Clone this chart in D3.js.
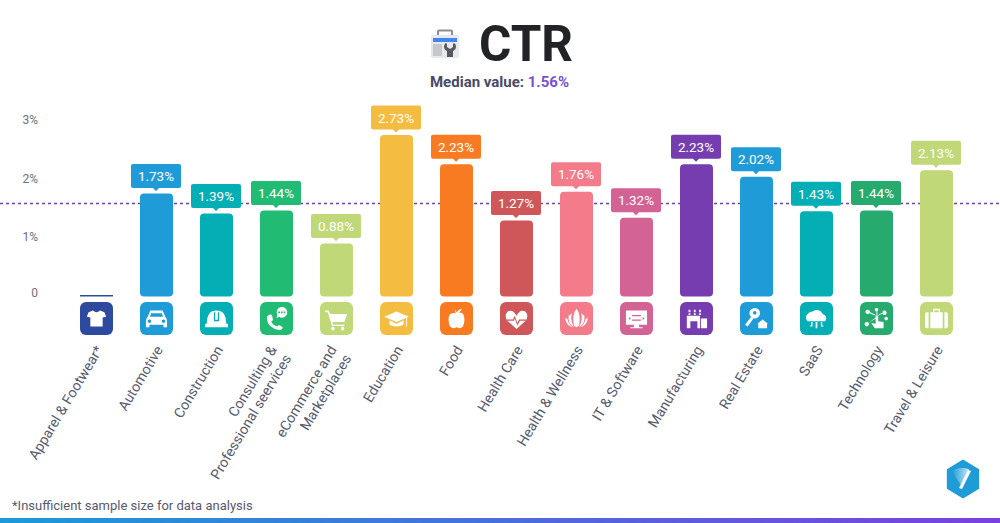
<!DOCTYPE html>
<html><head><meta charset="utf-8">
<script src="https://cdnjs.cloudflare.com/ajax/libs/d3/7.8.5/d3.min.js"></script>
<style>html,body{margin:0;padding:0;background:#fff}svg{display:block}text{font-family:Roboto,sans-serif}</style>
</head><body><svg id="c" width="1000" height="523"></svg>
<script>
const categories=["Apparel & Footwear*","Automotive","Construction","Consulting &|Professional seervices","eCommerce and|Marketplaces","Education","Food","Health Care","Health & Wellness","IT & Software","Manufacturing","Real Estate","SaaS","Technology","Travel & Leisure"];
const values=[null,1.73,1.39,1.44,0.88,2.73,2.23,1.27,1.76,1.32,2.23,2.02,1.43,1.44,2.13];
const colors=["#2e4a9e","#1f9cd8","#03aeb4","#22bb73","#c0d877","#f5bc42","#f87b22","#cf5759","#f37b8a","#d36295","#753db0","#1f9cd8","#03aeb4","#27aa6d","#c0d877"];
const yTicks=[0,1,2,3];
const median=1.56;
const iconPaths=[
"M-4-9 L-9-7 L-11-2 L-7-1 L-7 9 L7 9 L7-1 L11-2 L9-7 L4-9 Q0-5-4-9Z",
"M-7-9 L7-9 L10-2 Q12 0 12 3 L12 10 L8 10 L8 7 L-8 7 L-8 10 L-12 10 L-12 3 Q-12 0-10-2Z M-6-6 L-7.5-2 L7.5-2 L6-6Z M-8 1 a2 2 0 1 0 .01 0Z M8 1 a2 2 0 1 0 .01 0Z",
"M-11 6 Q-11-9 0-9 Q11-9 11 6 L13 6 L13 10 L-13 10 L-13 6Z M-3-7 L-3 3 L3 3 L3-7 L1.5-7 L1.5 1.5 L-1.5 1.5 L-1.5-7Z",
"M-10-3 Q-6-6-5-3 L-4 1 Q-4 3-6 3 Q-4 8 1 9 Q2 7 4 8 L7 10 Q7 13 3 13 Q-10 11-11 0 Q-11-2-10-3Z M6-13 a6 6 0 1 1-3 11 l-3 1.5 l1-3.5 A6 6 0 0 1 6-13Z M2-8 h2 v2 h-2Z M5-8 h2 v2 h-2Z M8-8 h2 v2 h-2Z",
"M-13-9 L-9-9 L-7-5 L12-5 L9 4 L-5 4 L-3.500 7 L9 7 L9 8.500 L-5 8.500 L-10-7 L-13-7Z M-4 9.500 a2 2 0 1 0 .01 0Z M7 9.500 a2 2 0 1 0 .01 0Z",
"M0-8 L14-2 L0 4 L-14-2Z M-8 2 L0 6 L8 2 L8 7 Q0 11-8 7Z M11-1 L12-1 L12 9 L11 9Z",
"M-2-11 L0-7 Q3-11 6-11 Q5-7 0-6 Q9-9 9 1 Q9 11 3 11 L0 10 L-3 11 Q-9 11-9 1 Q-9-8-1-6Z",
"M0-3 Q-4-11-10-8 Q-14-4-11 2 L0 12 L11 2 Q14-4 10-8 Q4-11 0-3Z M-11 1 L-4 1 L-2-3 L1 5 L3 1 L11 1 L11 2.500 L4 2.500 L1 8 L-2 0 L-3 2.500 L-11 2.500Z",
"M0-11 Q5-5 3 8 L0 10 L-3 8 Q-5-5 0-11Z M-5-6 Q-8 0-3 10 Q-10 6-9-3Z M5-6 Q8 0 3 10 Q10 6 9-3Z M-10 1 Q-9 7-4 10 Q-12 9-13-1Z M10 1 Q9 7 4 10 Q12 9 13-1Z",
"M-12-9 L12-9 L12 7 L3 7 L3 10 L7 10 L7 11 L-7 11 L-7 10 L-3 10 L-3 7 L-12 7Z M-5-4 h10 v1.500 h-10Z M-5 1 h10 v1.500 h-10Z M-7-2 l-2 2 l2 2Z M7-2 l2 2 l-2 2Z",
"M-11 11 L-11-3 L4-3 L4 11 L1 11 L1 3 L-7 3 L-7 11Z M5 0 L12 0 L12 11 L5 11Z M-9-6 h2 v2 h-2Z M-3-6 h2 v2 h-2Z M3-6 h2 v2 h-2Z M-9-10 h2 v3 h-2Z M-3-10 h2 v3 h-2Z M3-10 h2 v3 h-2Z",
"M-2-12 a6 6 0 1 0 .01 0Z M-2-8.500 a2 2 0 1 1-.01 0Z M-6-2 L-3.500 0 L-10 9 L-13 7Z M7 1 L13 6 L12 6 L12 11 L2 11 L2 6 L1 6Z",
"M-10 3 a5 5 0 0 1 0-8 a6 6 0 0 1 6-3 a7 7 0 0 1 11 3 a5 5 0 0 1 3 8Z M-1 4 h2 v7 h-2Z M-6 4 h1.500 v5 h-3 v-1 h1.500Z M5 4 h1.500 v4 h1.500 v1 h-3Z",
"M-1-2 a1.500 1.500 0 0 1 3 0 L2 3 L8 4 L8 11 L-2 11 L-6 5 L-1 6Z M-10-10 a2.500 2.500 0 1 0 .01 0Z M9-9 a2.500 2.500 0 1 0 .01 0Z M-11 4 a2.500 2.500 0 1 0 .01 0Z M0-12 a2 2 0 1 0 .01 0Z M11-2 a2 2 0 1 0 .01 0Z M-8-6 L-1-3 L-1-4 L-7-7Z M7-6 L2-3 L2-4 L7-7Z M-9 5 L-1-1 L-1 0Z M0-8 h1 v5 h-1Z",
"M-4-7 L-4-11 L4-11 L4-7 L11-7 Q13-7 13-5 L13 9 Q13 11 11 11 L-11 11 Q-13 11-13 9 L-13-5 Q-13-7-11-7Z M-2.500-7 L2.500-7 L2.500-9.500 L-2.500-9.500Z M-9-7 L-9 11 L-7 11 L-7-7Z M7-7 L7 11 L9 11 L9-7Z"
];
const svg=d3.select("#c");
const defs=svg.append("defs");
const grad=defs.append("linearGradient").attr("id","bottom");
grad.append("stop").attr("offset","0").attr("stop-color","#1a9bd7");
grad.append("stop").attr("offset","1").attr("stop-color","#7c3fe0");
const hex=defs.append("linearGradient").attr("id","hexg").attr("x1",1).attr("x2",0);
hex.append("stop").attr("offset","0").attr("stop-color","#fff").attr("stop-opacity",.75);
hex.append("stop").attr("offset","1").attr("stop-color","#fff").attr("stop-opacity",0);

const x=d3.scaleBand().domain(categories).range([66.5,966.5]);
const barW=33;
const y=d3.scaleLinear().domain([0,3]).range([295,119.2]);
const cx=c=>x(c)+x.bandwidth()/2;

// header
const logo=svg.append("g").attr("transform","translate(445,44)");
logo.append("path").attr("d","M-8-9 L-8-12.500 Q-8-14.500-6-14.500 L6-14.500 Q8-14.500 8-12.500 L8-9 L6-9 L6-12.500 L-6-12.500 L-6-9Z").attr("fill","#8a8e94");
logo.append("rect").attr("x",-14).attr("y",-9).attr("width",28).attr("height",23).attr("rx",2).attr("fill","#e6e8eb");
logo.append("rect").attr("x",-12).attr("y",-6).attr("width",24).attr("height",4).attr("fill","#3f86ee");
logo.append("rect").attr("x",-12).attr("y",0).attr("width",9).attr("height",12).attr("fill","#c4c8cc");
logo.append("path").attr("d","M0-.5 L2-.5 L2 3 L5 5 L8 3 L8-.5 L10-.5 L11 2 Q11 6 8 7 L8 13 L2 13 L2 7 Q-1 6-1 2Z").attr("fill","#55585d");
svg.append("text").attr("x",479).attr("y",61).attr("font-size",49.500).attr("font-weight",700).attr("fill","#212327").text("CTR");
const med=svg.append("text").attr("x",499.500).attr("y",87).attr("text-anchor","middle").attr("font-size",15).attr("font-weight",700).attr("fill","#474a67");
med.append("tspan").text("Median value: ");
med.append("tspan").attr("fill","#7b4fd6").text(median+"%");

// y ticks
svg.append("g").selectAll("text").data(yTicks).join("text")
  .attr("x",38).attr("y",d=>y(d)+(d===0?2:5)).attr("text-anchor","end").attr("font-size",12).attr("fill","#6d7080")
  .text(d=>d===0?"0":d+"%");

// median line
svg.append("line").attr("x1",0).attr("x2",1000).attr("y1",y(median)).attr("y2",y(median))
  .attr("stroke","#6b3ec0").attr("stroke-width",1.500).attr("stroke-dasharray","3 3");

const g=svg.append("g").selectAll("g").data(categories).join("g");
// bars
g.filter((d,i)=>values[i]!==null).append("rect")
  .attr("x",d=>cx(d)-barW/2).attr("width",barW)
  .attr("y",d=>y(values[categories.indexOf(d)]))
  .attr("height",d=>y(0)-y(values[categories.indexOf(d)])+1.500).attr("rx",4)
  .attr("fill",d=>colors[categories.indexOf(d)]);
g.filter((d,i)=>values[i]===null).append("rect")
  .attr("x",d=>cx(d)-barW/2).attr("width",barW).attr("y",y(0)).attr("height",1.500)
  .attr("fill",d=>colors[categories.indexOf(d)]);
// value labels
const lab=g.filter((d,i)=>values[i]!==null).append("g")
  .attr("transform",d=>`translate(${cx(d)-.5},${y(values[categories.indexOf(d)])-17.500})`);
lab.append("path").attr("d","M-23-12 h46 q2 0 2 2 v20 q0 2-2 2 h-20 l-3 3 l-3-3 h-20 q-2 0-2-2 v-20 q0-2 2-2Z")
  .attr("fill",d=>colors[categories.indexOf(d)]);
lab.append("text").attr("y",5).attr("text-anchor","middle").attr("font-size",13.500).attr("fill","#fff")
  .text(d=>values[categories.indexOf(d)].toFixed(2)+"%");
// icons
g.append("rect").attr("x",d=>cx(d)-barW/2).attr("y",302).attr("width",barW).attr("height",33).attr("rx",6)
  .attr("fill",d=>colors[categories.indexOf(d)]);
g.append("path").attr("transform",d=>`translate(${cx(d)},318.500) scale(.88)`)
  .attr("d",(d,i)=>iconPaths[i]).attr("fill","#fff").attr("fill-rule","evenodd");
// category labels
g.append("text").attr("transform",d=>{
    const two=d.includes("|");
    return `translate(${cx(d)+(two?5:3.5)},${two?352:347.500}) rotate(-59)`;
  })
  .attr("text-anchor","end").attr("font-size",14.200).attr("fill","#565a6e")
  .each(function(d){
    const parts=d.split("|"),t=d3.select(this);
    parts.forEach((p,k)=>t.append("tspan").attr("x",0).attr("dy",k?17:(parts.length>1?-5:4)).text(p));
  });

// footer
svg.append("text").attr("x",12).attr("y",510).attr("font-size",13).attr("fill","#565a6e").text("*Insufficient sample size for data analysis");
svg.append("rect").attr("x",0).attr("y",518).attr("width",1000).attr("height",5).attr("fill","url(#bottom)");
const badge=svg.append("g").attr("transform","translate(963,479)");
const hexPts=d3.range(6).map(k=>{const a=Math.PI/3*k-Math.PI/2;return [17.500*Math.cos(a),18.500*Math.sin(a)];});
badge.append("path").attr("d",d3.line().curve(d3.curveLinearClosed)(hexPts)).attr("fill","#1f9cd8").attr("stroke","#1f9cd8").attr("stroke-width",2).attr("stroke-linejoin","round");
badge.append("path").attr("d","M-11-8 Q-4-13 6-10 L0 8 Q-6 2-11-8Z").attr("fill","url(#hexg)");
badge.append("path").attr("d","M5-9 L8-8 L-1 10 L-4 9Z").attr("fill","#fff");
</script></body></html>
